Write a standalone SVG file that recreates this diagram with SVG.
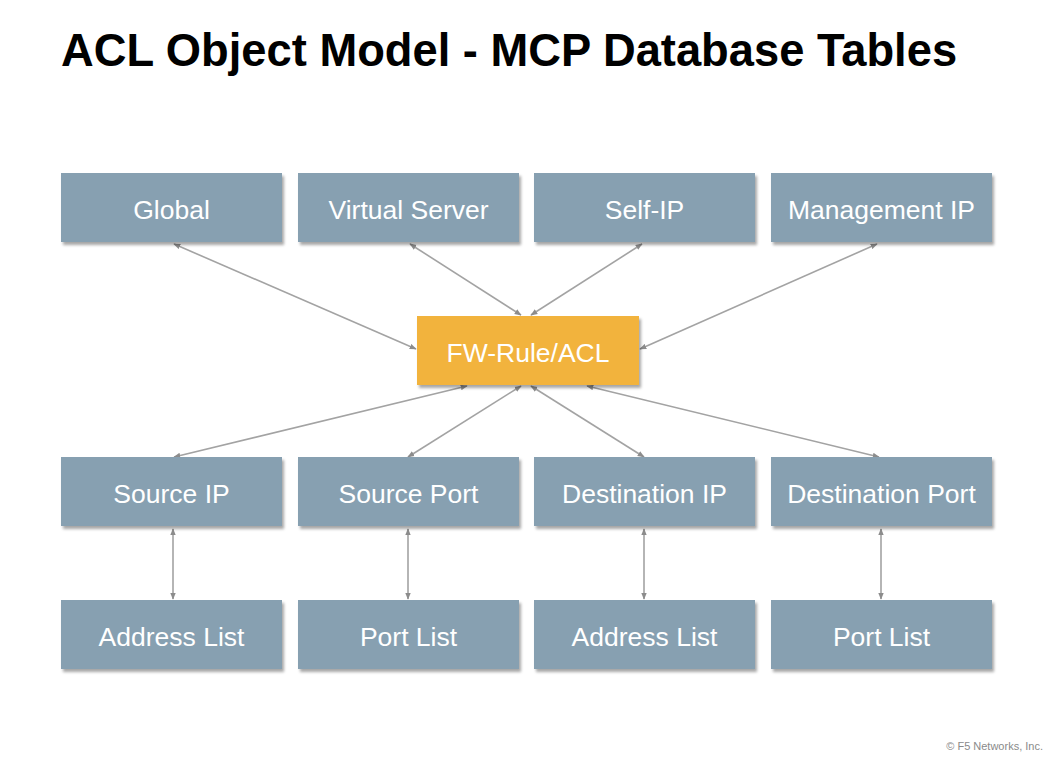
<svg xmlns="http://www.w3.org/2000/svg" width="1064" height="763" viewBox="0 0 1064 763">
<defs>
<filter id="sh" x="-10%" y="-10%" width="130%" height="140%">
<feGaussianBlur in="SourceAlpha" stdDeviation="1.5"/>
<feOffset dx="2" dy="3" result="b"/>
<feComponentTransfer><feFuncA type="linear" slope="0.35"/></feComponentTransfer>
<feMerge><feMergeNode/><feMergeNode in="SourceGraphic"/></feMerge>
</filter>
<marker id="ah" viewBox="0 0 10 10" refX="9" refY="5" markerWidth="7" markerHeight="7" orient="auto-start-reverse" markerUnits="userSpaceOnUse">
<path d="M0,1 L10,5 L0,9 z" fill="#8c8c8c"/>
</marker>
</defs>
<style>
.box{fill:#87a0b1;filter:url(#sh)}
.fw{fill:#f2b33c;filter:url(#sh)}
.lbl{font-family:"Liberation Sans",Arial,sans-serif;font-size:26.5px;fill:#ffffff;text-anchor:middle}
.c{stroke:#a3a3a3;stroke-width:1.6;fill:none;marker-start:url(#ah);marker-end:url(#ah)}
</style>
<rect width="1064" height="763" fill="#ffffff"/>
<text x="61" y="66" font-family="'Liberation Sans',Arial,sans-serif" font-weight="bold" font-size="45.3" fill="#000">ACL Object Model - MCP Database Tables</text>
<g id="connectors">
<line class="c" x1="174" y1="244" x2="416" y2="349"/>
<line class="c" x1="410" y1="244" x2="521" y2="315"/>
<line class="c" x1="642" y1="244" x2="531" y2="315"/>
<line class="c" x1="877" y1="244" x2="640" y2="349"/>
<line class="c" x1="174" y1="457" x2="467" y2="386"/>
<line class="c" x1="408" y1="457" x2="521" y2="386"/>
<line class="c" x1="644" y1="457" x2="531" y2="386"/>
<line class="c" x1="879" y1="457" x2="587" y2="386"/>
<line class="c" x1="173" y1="529" x2="173" y2="599"/>
<line class="c" x1="408" y1="529" x2="408" y2="599"/>
<line class="c" x1="644" y1="529" x2="644" y2="599"/>
<line class="c" x1="881" y1="529" x2="881" y2="599"/>
</g>
<g id="global"><rect class="box" x="61" y="173" width="221" height="69"/><text class="lbl" x="171.5" y="219">Global</text></g>
<g id="virtual-server"><rect class="box" x="298" y="173" width="221" height="69"/><text class="lbl" x="408.5" y="219">Virtual Server</text></g>
<g id="self-ip"><rect class="box" x="534" y="173" width="221" height="69"/><text class="lbl" x="644.5" y="219">Self-IP</text></g>
<g id="management-ip"><rect class="box" x="771" y="173" width="221" height="69"/><text class="lbl" x="881.5" y="219">Management IP</text></g>
<g id="fw-rule"><rect class="fw" x="417" y="316" width="222" height="69"/><text class="lbl" x="528" y="362">FW-Rule/ACL</text></g>
<g id="source-ip"><rect class="box" x="61" y="457" width="221" height="69"/><text class="lbl" x="171.5" y="503">Source IP</text></g>
<g id="source-port"><rect class="box" x="298" y="457" width="221" height="69"/><text class="lbl" x="408.5" y="503">Source Port</text></g>
<g id="destination-ip"><rect class="box" x="534" y="457" width="221" height="69"/><text class="lbl" x="644.5" y="503">Destination IP</text></g>
<g id="destination-port"><rect class="box" x="771" y="457" width="221" height="69"/><text class="lbl" x="881.5" y="503">Destination Port</text></g>
<g id="address-list-1"><rect class="box" x="61" y="600" width="221" height="69"/><text class="lbl" x="171.5" y="646">Address List</text></g>
<g id="port-list-1"><rect class="box" x="298" y="600" width="221" height="69"/><text class="lbl" x="408.5" y="646">Port List</text></g>
<g id="address-list-2"><rect class="box" x="534" y="600" width="221" height="69"/><text class="lbl" x="644.5" y="646">Address List</text></g>
<g id="port-list-2"><rect class="box" x="771" y="600" width="221" height="69"/><text class="lbl" x="881.5" y="646">Port List</text></g>
<text x="1043" y="750" font-family="'Liberation Sans',Arial,sans-serif" font-size="11" fill="#8a8a8a" text-anchor="end">© F5 Networks, Inc.</text>
</svg>
